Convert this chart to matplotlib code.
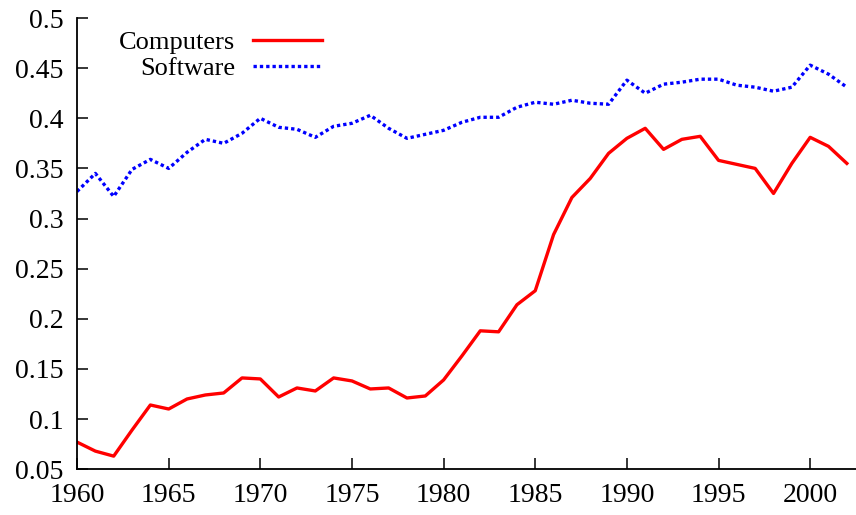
import matplotlib.pyplot as plt

years = list(range(1960, 2003))

computers = [0.077, 0.068, 0.063, 0.089, 0.114, 0.110, 0.120, 0.124, 0.126, 0.141,
             0.140, 0.122, 0.131, 0.128, 0.141, 0.138, 0.130, 0.131, 0.121, 0.123,
             0.139, 0.163, 0.188, 0.187, 0.214, 0.228, 0.284, 0.321, 0.340, 0.365,
             0.380, 0.390, 0.369, 0.379, 0.382, 0.358, 0.354, 0.350, 0.325, 0.355,
             0.381, 0.372, 0.355]

software = [0.327, 0.345, 0.322, 0.349, 0.359, 0.350, 0.366, 0.379, 0.375, 0.385,
            0.400, 0.391, 0.389, 0.381, 0.392, 0.395, 0.403, 0.390, 0.380, 0.384,
            0.388, 0.396, 0.401, 0.401, 0.411, 0.416, 0.414, 0.418, 0.415, 0.414,
            0.438, 0.425, 0.434, 0.436, 0.439, 0.439, 0.433, 0.431, 0.427, 0.431,
            0.453, 0.444, 0.431]

xticks = [1960, 1965, 1970, 1975, 1980, 1985, 1990, 1995, 2000]
yticks = [0.05, 0.1, 0.15, 0.2, 0.25, 0.3, 0.35, 0.4, 0.45, 0.5]
ytick_labels = ['0.05', '0.1', '0.15', '0.2', '0.25', '0.3', '0.35', '0.4', '0.45', '0.5']

plt.rcParams['font.family'] = ['Liberation Serif', 'DejaVu Serif']

fig = plt.figure(figsize=(8.56, 5.15), dpi=100)
ax = fig.add_axes([0.09, 0.089, 0.91, 0.876])

ax.plot(years, computers, color='#ff0000', linewidth=2.4, label='Computers')
ax.plot(years, software, color='#0000ff', linewidth=2.4, linestyle=(0, (1, 0.9)),
        label='Software')

ax.set_xlim(1960, 2002.5)
ax.set_ylim(0.05, 0.5)
ax.set_xticks(xticks)
ax.set_yticks(yticks)
ax.set_yticklabels(ytick_labels)

for s in ['top', 'right']:
    ax.spines[s].set_visible(False)
for s in ['left', 'bottom']:
    ax.spines[s].set_linewidth(1.3)
ax.tick_params(direction='in', length=8, width=1.1, labelsize=20)
ax.tick_params(axis='y', pad=10)
ax.tick_params(axis='x', pad=10)

leg = ax.legend(loc='upper left', bbox_to_anchor=(0.04, 0.995), frameon=False,
                markerfirst=False, fontsize=19, handlelength=2.6,
                labelspacing=0.1, handletextpad=0.7, borderaxespad=0)
for t in leg.get_texts():
    t.set_ha('right')

fig.savefig('out.png', dpi=100)
